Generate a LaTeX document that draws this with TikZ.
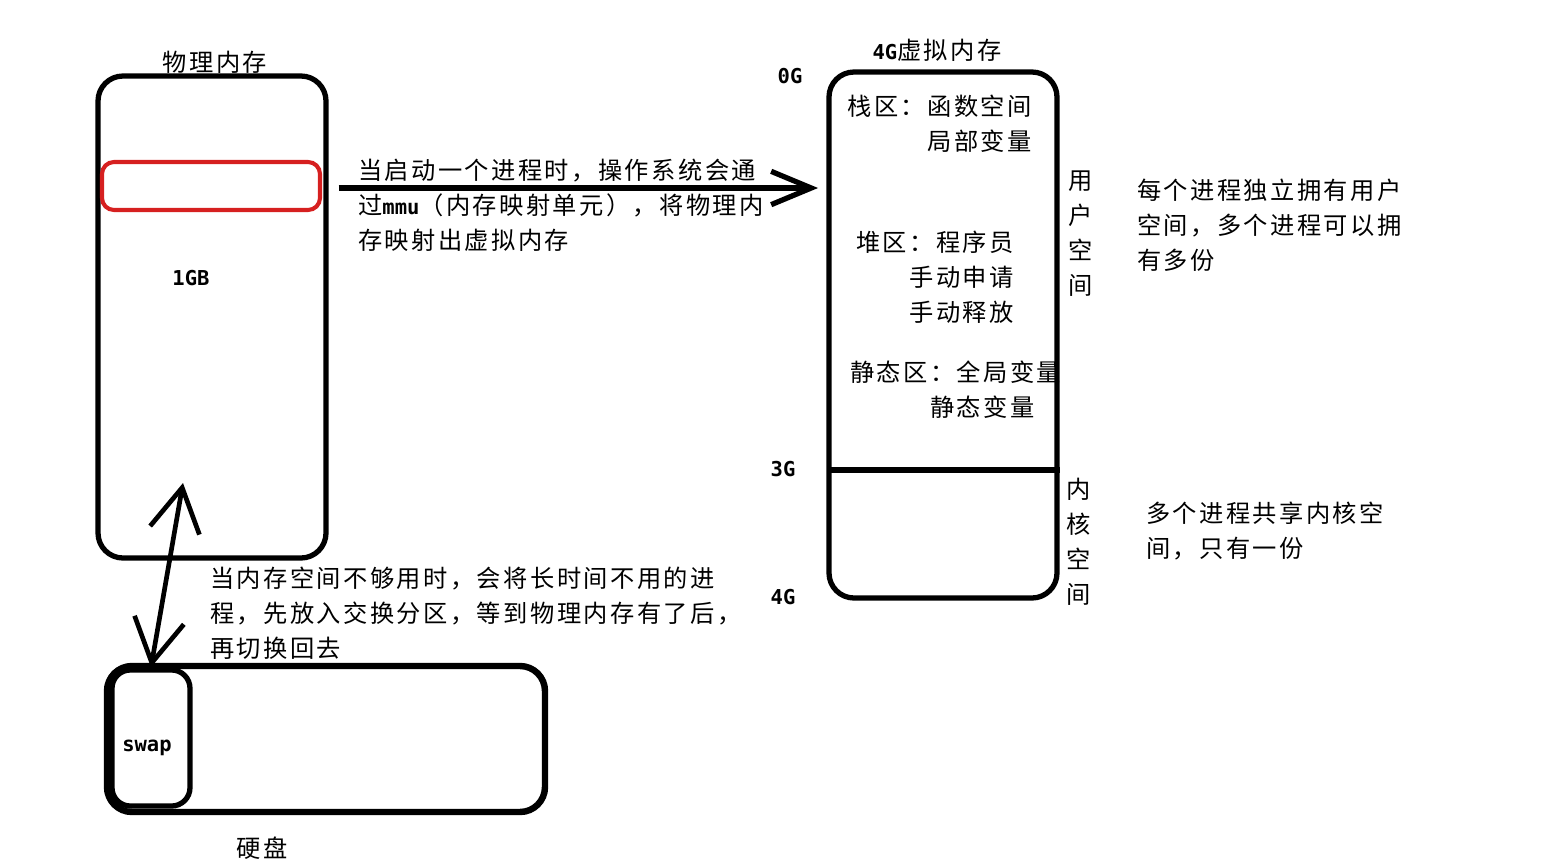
\documentclass[tikz,border=0pt]{standalone}
\usepackage{fontspec}
\setmainfont{Noto Sans CJK SC}[LetterSpace=10]
\newfontfamily\lblf{DejaVu Sans Mono}
\usetikzlibrary{positioning, arrows.meta, fit}
\definecolor{procred}{RGB}{214,32,32}
\newcommand\bodysize{\fontsize{20.7}{29.9}\selectfont}
\newcommand\lblsize{\fontsize{17.5}{20}\selectfont}

\begin{document}
\begin{tikzpicture}[
    x=0.03cm, y=-0.03cm,
    box/.style={draw, line width=4.5pt, rounded corners=0.75cm, inner sep=0pt},
    txt/.style={font=\bodysize, inner sep=0pt, align=left},
    lbl/.style={font=\lblf\bfseries\lblsize, inner sep=0pt},
    arr/.style={-{Straight Barb[length=1.2cm, width=1cm]}, line width=4.5pt},
    darr/.style={{Straight Barb[length=1.3cm, width=1.5cm]}-{Straight Barb[length=1.3cm, width=1.5cm]}, line width=4pt}]

  \useasboundingbox (0,0) rectangle (1542,865);

  % === Physical memory ===
  \node[box, fit={(98,76) (326,558)}] (phys) {};
  \node[txt] (physttl) at (215,62) {物理内存};
  \node[box, draw=procred, line width=3.5pt, rounded corners=0.36cm,
        fit={(102,162) (320,210)}] (proc) {};
  \node[lbl] (gb) at (191,278) {1GB};

  % === Virtual memory (4G) ===
  \node[box, fit={(829,72) (1057,598)}] (vmem) {};
  \node[txt] (vmttl) at (937,50) {{\lblf\bfseries\lblsize 4G}虚拟内存};
  \coordinate (cut) at (829,470);
  \draw[line width=4.5pt] (cut) -- (cut -| vmem.east);

  \node[lbl] (g0) at (790,76) {0G};
  \node[lbl] (g3) at (783,469) {3G};
  \node[lbl] (g4) at (783,597) {4G};

  % regions of the user space
  \node[txt, align=right, anchor=north east] (stack) at (1032,95) {栈区：函数空间\\局部变量};
  \node[txt, align=right, anchor=north east] (heap) at (1014,231) {堆区：程序员\\手动申请\\手动释放};
  \node[txt, anchor=north west] (static) at (850,361) {静态区：全局变量\\\hspace*{2.4cm}静态变量};

  \node[txt, align=center] (user) at (1081,234) {用\\户\\空\\间};
  \node[txt, align=center] (kern) at (1079,542) {内\\核\\空\\间};

  \node[txt, anchor=north west] (usertxt) at (1137,179) {每个进程独立拥有用户\\空间，多个进程可以拥\\有多份};
  \node[txt, anchor=north west] (kerntxt) at (1146,502) {多个进程共享内核空\\间，只有一份};

  % === Mapping arrow ===
  \draw[arr] ([xshift=0.3cm, yshift=-0.06cm]proc.east -| phys.east) -- ([xshift=-0.25cm, yshift=-0.06cm]proc.east -| vmem.west);
  \node[txt, anchor=north west] (maptxt) at (358,159)
    {当启动一个进程时，操作系统会通\\过{\lblf\bfseries\lblsize mmu}（内存映射单元），将物理内\\存映射出虚拟内存};

  % === Hard disk with swap ===
  \node[box, line width=5.5pt, fit={(107,666) (545,812)}] (disk) {};
  \node[box, rounded corners=0.55cm, fit={(112,670) (190,806)}] (swap) {};
  \node[lbl] (swaplbl) at (147,748) {swap};
  \node[txt] (diskttl) at (262,848) {硬盘};

  % swap in / out
  \coordinate (swapin) at (183,483);
  \draw[darr] (swap.north) -- (swapin);
  \node[txt, anchor=north west] (swaptxt) at (210,567)
    {当内存空间不够用时，会将长时间不用的进\\程，先放入交换分区，等到物理内存有了后，\\再切换回去};

\end{tikzpicture}
\end{document}
